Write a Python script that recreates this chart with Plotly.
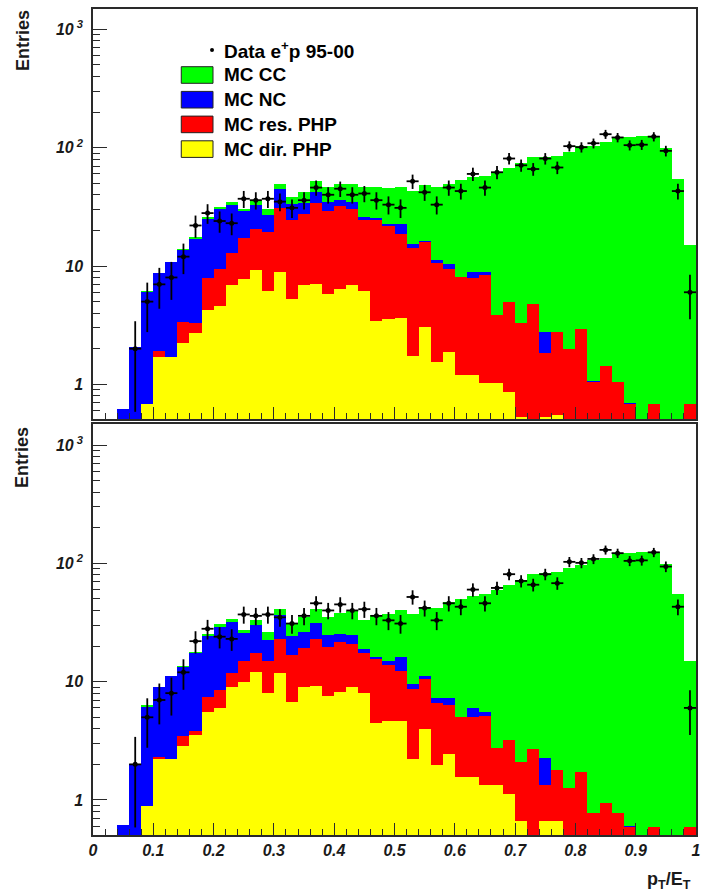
import numpy as np
import plotly.graph_objects as go

# ---- binning: 50 bins of p_T/E_T between 0 and 1 ----
n_bins = 50
bin_edges = np.linspace(0.0, 1.0, n_bins + 1)
bin_centers = 0.5 * (bin_edges[:-1] + bin_edges[1:])
bin_width = bin_edges[1] - bin_edges[0]

N = None
# ---- data e+p 95-00 (entries per bin, same in both panels) ----
data_entries = [N, N, N, 2, 5, 7, 8, 12, 22, 28,
                 24, 23, 37, 36, 37, 35, 31, 36, 46, 40,
                 45, 40, 41, 36, 33, 31, 52, 42, 33, 46,
                 43, 60, 46, 62, 81, 71, 66, 81, 68, 103,
                 101, 109, 130, 122, 105, 106, 124, 94, 43, 6]

# ---- upper panel: cumulative stack levels ----
top_cc = [N, N, 0.62, 2.08, 6.1, 8.67, 10.9, 13.8, 17.5, 26.1,
          31.5, 35, 30.1, 35.8, 30.3, 49.6, 38.5, 42.5, 52.3, 46.8,
          49.3, 49.3, 46.8, 46.2, 45.9, 46.8, 43.3, 48, 46.2, 49,
          53.3, 56.9, 58, 62.3, 66.9, 73.7, 83.4, 83.4, 85.1, 91.9,
          103, 104, 111, 124, 124, 126, 126, 98.7, 54.7, 15.0]
top_nc = [N, N, 0.62, 2.08, 5.99, 8.67, 10.9, 13.6, 16.8, 25,
          30.1, 32.8, 29.4, 32.8, 27, 45, 33.4, 33.8, 42.2, 35,
          36.2, 34.8, 26.1, 25.4, 22.8, 22.6, 15.3, 16.3, 11.2, 10.4,
          8.13, 8.9, 8.9, 3.85, 4.99, 3.32, 4.77, 2.79, 2.79, 1.99,
          2.94, 1.07, 1.43, 1.05, 0.69, N, 0.68, N, N, 0.68]
top_res = [N, N, N, N, 0.68, 1.92, 1.71, 3.39, 3.32, 7.97,
           9.5, 12.8, 17.3, 20.4, 19.2, 30.7, 24.5, 27.5, 34.3, 29.2,
           32.1, 30.1, 24.5, 24.5, 21.9, 18.6, 14.3, 16.0, 10.7, 9.44,
           8.0, 7.97, 8.4, 3.85, 4.99, 3.32, 4.77, 1.85, 2.79, 1.99,
           2.94, 1.05, 1.43, 1.05, 0.68, N, 0.68, N, N, 0.68]
top_dir = [N, N, N, N, 0.68, 1.71, 1.71, 2.25, 2.73, 4.25,
           4.59, 6.9, 7.77, 9.25, 6.15, 8.96, 5.23, 6.9, 7.05, 5.8,
           6.4, 6.9, 6.15, 3.45, 3.56, 3.66, 1.75, 3.07, 1.54, 1.88,
           1.2, 1.2, 1.03, 1.03, 0.86, 0.53, N, 0.53, 0.55, N,
           N, N, N, N, N, N, N, N, N, N]

# ---- lower panel: cumulative stack levels ----
bot_cc = [N, N, 0.62, 2.01, 6.3, 9.07, 11.2, 13.7, 17.9, 25.3,
          30.7, 33.8, 27.3, 32.9, 26.1, 41.1, 31.1, 35, 40.8, 35,
          37.8, 39.5, 33.2, 36.6, 37.3, 40.3, 37.3, 42.5, 42.2, 46.8,
          50, 53.3, 54.7, 59.5, 65.6, 72.3, 81.2, 83.4, 85.1, 90.7,
          97, 107, 110, 123, 123, 125, 125, 98.7, 55, 14.9]
bot_nc = [N, N, 0.62, 2.01, 6.15, 9.07, 11.2, 13.4, 17.4, 24.3,
          29.2, 32.1, 25.6, 30.1, 22.5, 36.6, 24.3, 26.3, 31.5, 24.8,
          25.3, 24.8, 18.8, 16.1, 15.0, 16.3, 9.57, 11.2, 7.28, 7.28,
          5.03, 6.0, 5.55, 2.75, 3.21, 2.1, 2.68, 2.26, 1.79, 1.27,
          1.73, 0.78, 0.95, 0.77, 0.6, N, 0.59, N, N, 0.59]
bot_res = [N, N, N, N, 0.89, 2.29, 2.22, 3.5, 3.83, 7.47,
           8.5, 11.8, 14.9, 17.4, 14.9, 22.9, 16.8, 19.3, 22.9, 19.8,
           21.8, 20.8, 17.6, 15.5, 13.8, 12.3, 8.67, 10.5, 6.6, 6.35,
           5.03, 5.03, 5.13, 2.75, 3.21, 2.1, 2.68, 1.35, 1.79, 1.26,
           1.73, 0.78, 0.95, 0.77, 0.59, N, 0.59, N, N, 0.59]
bot_dir = [N, N, N, N, 0.89, 2.22, 2.22, 2.88, 3.54, 5.58,
           6.03, 9.07, 10, 12, 8.07, 11.8, 6.78, 9.07, 9.25, 7.57,
           8.23, 9.07, 8.07, 4.5, 4.68, 4.68, 2.23, 3.98, 1.98, 2.45,
           1.57, 1.57, 1.34, 1.34, 1.12, 0.66, N, 0.66, 0.66, N,
           N, N, N, N, N, N, N, N, N, N]

legend_labels = ["MC CC", "MC NC", "MC res. PHP", "MC dir. PHP"]
colors = ["#00ff00", "#0000ff", "#ff0000", "#ffff00"]
data_label = "Data e<sup>+</sup>p 95-00"

fig = go.Figure()


def add_panel(xa, ya, levels):
    for lev, col in zip(levels, colors):
        fig.add_trace(go.Bar(
            x=bin_centers, y=lev, width=[bin_width] * n_bins,
            marker=dict(color=col, line=dict(width=0)), opacity=1,
            xaxis=xa, yaxis=ya, showlegend=False, hoverinfo="skip"))
    err = [np.sqrt(v) if v is not None else None for v in data_entries]
    fig.add_trace(go.Scatter(
        x=bin_centers, y=data_entries, mode="markers",
        marker=dict(color="black", size=5, symbol="circle"),
        error_y=dict(type="data", array=err, visible=True, color="black",
                     thickness=1.8, width=0),
        error_x=dict(type="constant", value=bin_width / 2, visible=True,
                     color="black", thickness=1.8, width=0),
        xaxis=xa, yaxis=ya, showlegend=False))


add_panel("x", "y", [top_cc, top_nc, top_res, top_dir])
add_panel("x2", "y2", [bot_cc, bot_nc, bot_res, bot_dir])

W, H = 708, 895
ml, mr, mt, mb = 93, 7, 9, 60
pw, ph = W - ml - mr, H - mt - mb


def px2paper(px, py):
    return (px - ml) / pw, (H - mb - py) / ph


top_dom = [px2paper(0, 419)[1], 1.0]
bot_dom = [0.0, px2paper(0, 424)[1]]

tickfont = dict(family="Liberation Sans", size=16, weight="bold",
                style="italic", color="#1a1a1a")
ymajor = [1, 10, 100, 1000]
ytext = ["1", "10", "10<sup> 2</sup>", "10<sup> 3</sup>"]
yminor = [m * 10 ** d for d in range(-1, 3) for m in range(2, 10)]
frame = "#2a2a2a"

common_x = dict(range=[0, 1], tickmode="linear", tick0=0, dtick=0.1,
                ticks="inside", ticklen=12, tickwidth=1, tickcolor=frame,
                minor=dict(ticks="inside", dtick=0.02, ticklen=6,
                           tickcolor=frame, tickwidth=1),
                showline=True, linecolor=frame, linewidth=1.5, mirror=True,
                showgrid=False, zeroline=False, tickfont=tickfont)
common_y = dict(type="log", tickmode="array", tickvals=ymajor, ticktext=ytext,
                ticks="inside", ticklen=14, tickwidth=1, tickcolor=frame,
                minor=dict(ticks="inside", tickmode="array", tickvals=yminor,
                           ticklen=7, tickcolor=frame, tickwidth=1),
                showline=True, linecolor=frame, linewidth=1.5, mirror=True,
                showgrid=False, zeroline=False, tickfont=tickfont,
                ticklabelstandoff=5)

fig.update_layout(
    width=W, height=H,
    margin=dict(l=ml, r=mr, t=mt, b=mb),
    paper_bgcolor="white", plot_bgcolor="white",
    barmode="overlay", bargap=0,
    showlegend=False,
    xaxis=dict(common_x, anchor="y", domain=[0, 1], showticklabels=False),
    yaxis=dict(common_y, anchor="x", domain=top_dom, range=[-0.293, 3.172]),
    xaxis2=dict(common_x, anchor="y2", domain=[0, 1], showticklabels=True),
    yaxis2=dict(common_y, anchor="x2", domain=bot_dom, range=[-0.296, 3.178]),
)

shapes = []
annots = []
lab_font = dict(family="Liberation Sans", size=19, color="black", weight="bold")

# legend (upper panel)
dx, dy = px2paper(213, 50)
shapes.append(dict(type="circle", xref="paper", yref="paper",
                   x0=dx - 2 / pw, x1=dx + 2 / pw, y0=dy - 2 / ph, y1=dy + 2 / ph,
                   fillcolor="black", line=dict(width=0)))
tx, ty = px2paper(223, 50)
annots.append(dict(x=tx, y=ty, xref="paper", yref="paper", text=data_label,
                   showarrow=False, xanchor="left", yanchor="middle", font=lab_font))
for k, (lab, col) in enumerate(zip(legend_labels, colors)):
    yc = 75 + 24.7 * k
    x0, y0 = px2paper(182, yc + 8.3)
    x1, y1 = px2paper(214, yc - 8.3)
    shapes.append(dict(type="rect", xref="paper", yref="paper",
                       x0=x0, x1=x1, y0=y0, y1=y1, fillcolor=col,
                       line=dict(color="#222222", width=1)))
    tx, ty = px2paper(223, yc)
    annots.append(dict(x=tx, y=ty, xref="paper", yref="paper", text=lab,
                       showarrow=False, xanchor="left", yanchor="middle",
                       font=lab_font))

# axis titles
for ytop in (8, 425):
    ex, ey = px2paper(22, ytop)
    annots.append(dict(x=ex, y=ey, xref="paper", yref="paper", text="Entries",
                       textangle=-90, showarrow=False, xanchor="center",
                       yanchor="top",
                       font=dict(family="Liberation Sans", size=18,
                                 color="#1a1a1a", weight="bold")))
px_, py_ = px2paper(698, 880)
annots.append(dict(x=px_, y=py_, xref="paper", yref="paper",
                   text="p<sub>T</sub>/E<sub>T</sub>", showarrow=False,
                   xanchor="right", yanchor="middle",
                   font=dict(family="Liberation Sans", size=18,
                             color="#1a1a1a", weight="bold")))

fig.update_layout(shapes=shapes, annotations=annots)
fig.write_html("out.html")
